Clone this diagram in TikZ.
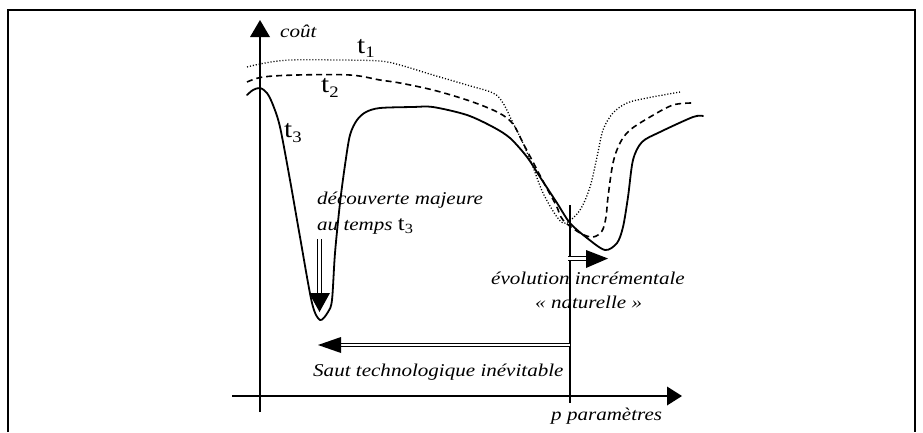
\documentclass[tikz,border=0pt]{standalone}
\usepackage{fontspec}
\setmainfont{Liberation Serif}
\usepackage{graphicx}
\newcommand\sx[1]{\scalebox{1.17}[1]{#1}}
\begin{document}
\begin{tikzpicture}[x=1pt,y=-1pt,
  curve/.style={line width=1.8pt, line join=round, line cap=round},
  dottedcurve/.style={line width=1.3pt, dash pattern=on 1.1pt off 1.9pt},
  dashedcurve/.style={line width=1.6pt, dash pattern=on 6pt off 4pt},
  axisline/.style={line width=2pt},
  lbl/.style={inner sep=0pt, anchor=base west, font=\fontsize{18}{20}\selectfont\itshape},
  tlbl/.style={inner sep=0pt, anchor=base west, font=\fontsize{25}{27}\selectfont},
  dbl/.style={draw, line width=0.9pt, double distance=2.4pt},
  head/.style={fill=black}]
\useasboundingbox (0,0) rectangle (923,432);
% frame
\draw[line width=2pt] (8,432) -- (8,10) -- (915,10) -- (915,432);

% axes
\coordinate (ybot) at (260,412);
\coordinate (ytop) at (260,20);
\coordinate (xl) at (232,396);
\coordinate (xr) at (682,396);
\draw[axisline] (ybot) -- (260,36);
\fill (250,37) -- (270,37) -- (ytop) -- cycle;
\draw[axisline] (xl) -- (668,396);
\fill (667,386.5) -- (667,405.5) -- (xr) -- cycle;

% vertical line at current point
\coordinate (vt) at (570,205);
\coordinate (vb) at (570,403);
\draw[line width=1.6pt] (vt) -- (vb);

% t1 dotted
\draw[dottedcurve] plot[smooth, tension=0.55] coordinates {
(247,67) (265,63) (290,60) (340,60) (380,61) (400,65) (433,75) (467,85)
(493,93) (503,103) (513,123) (523,143) (533,167) (543,193) (557,217) (566,223)
(580,210) (590,187) (597,157) (603,130) (613,113) (627,103) (647,98) (680,92)};

% t2 dashed
\draw[dashedcurve] plot[smooth, tension=0.55] coordinates {
(247,82) (263,77) (297,75) (350,75) (380,80) (400,83) (433,90) (467,100)
(493,110) (507,118) (515,127) (523,143) (533,162) (545,185) (556,205) (563,220)
(580,233) (593,237) (602,231) (606,217) (608,197) (613,163) (620,143) (630,130)
(650,117) (673,105) (693,103)};

% t3 solid
\draw[curve] plot[smooth, tension=0.5] coordinates {
(247,95) (253,90) (260,88) (267,93) (273,105) (280,127) (290,180) (300,237)
(312,303) (320,320) (328,312) (332,300) (335,253) (340,203) (345,165) (350,135)
(357,120) (366,112) (380,108) (413,107) (433,107) (467,115) (493,127) (510,138)
(527,157) (540,177) (557,203) (570,223) (587,238) (605,250) (617,243) (623,227)
(628,197) (633,160) (642,142) (660,132) (693,117) (703,116)};

% labels
\node[lbl] (cout) at (280,37) {\sx{coût}};
\node[tlbl] (t1) at (357,53) {\sx{t}\raisebox{-4pt}{\sx{\fontsize{16}{16}\selectfont 1}}};
\node[tlbl] (t2) at (321,92) {\sx{t}\raisebox{-5pt}{\sx{\fontsize{16}{16}\selectfont 2}}};
\node[tlbl] (t3) at (284,137) {\sx{t}\raisebox{-5pt}{\sx{\fontsize{16}{16}\selectfont 3}}};
\node[lbl] (dec1) at (317,204) {\sx{découverte majeure}};
\node[lbl] (dec2) at (317,230) {\sx{au temps \upshape\fontsize{21}{21}\selectfont t\raisebox{-3pt}{\fontsize{14}{14}\selectfont 3}}};
\node[lbl] (evo1) at (491,284) {\sx{évolution incrémentale}};
\node[lbl] (evo2) at (535,308) {\sx{« naturelle »}};
\node[lbl] (saut) at (313,376) {\sx{Saut technologique inévitable}};
\node[lbl] (param) at (551,420) {\sx{p paramètres}};

% arrows
\coordinate (dA) at (319.5,239);
\coordinate (dB) at (319.5,294);
\draw[dbl] (dA) -- (dB);
\fill (309,293) -- (330,293) -- (319.5,312) -- cycle;

\coordinate (lA) at (570,345);
\coordinate (lB) at (340,345);
\draw[dbl] (lA) -- (lB);
\fill (341,337) -- (341,353) -- (318,345) -- cycle;

\coordinate (rA) at (568,258.5);
\coordinate (rB) at (587,258.5);
\draw[dbl] (rA) -- (rB);
\fill (586,250) -- (586,268) -- (608,258.5) -- cycle;
\end{tikzpicture}
\end{document}
